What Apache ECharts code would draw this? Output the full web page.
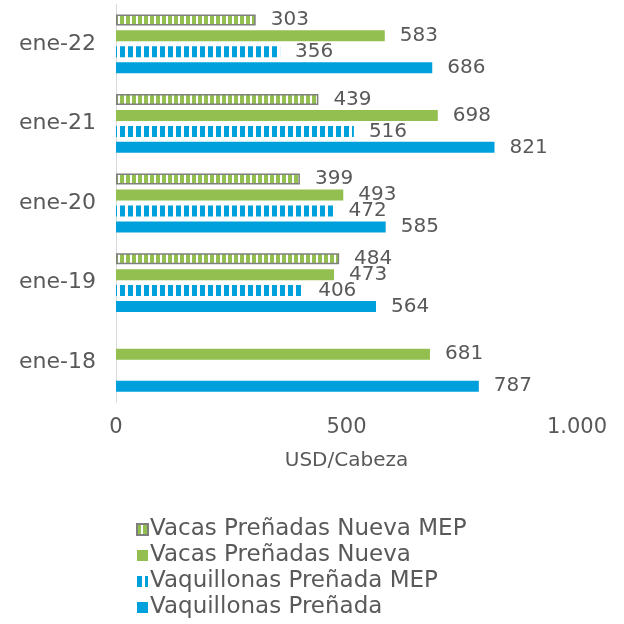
<!DOCTYPE html>
<html>
<head>
<meta charset="utf-8">
<script src="https://cdn.jsdelivr.net/npm/echarts@6/dist/echarts.min.js"></script>
<style>
  html, body { margin: 0; padding: 0; background: #fff; }
  #chart { width: 624px; height: 624px; }
</style>
</head>
<body>
<div id="chart"></div>
<script>
// data, bottom to top as echarts draws a category yAxis
const categories = ['ene-18', 'ene-19', 'ene-20', 'ene-21', 'ene-22']
const vaquillonas = [787, 564, 585, 821, 686]
const vaquillonasMep = [null, 406, 472, 516, 356]
const vacas = [681, 473, 493, 698, 583]
const vacasMep = [null, 484, 399, 439, 303]
const xTicks = [0, 500, 1000]

const FONT = 'DejaVu Sans'
const TEXT = '#595959'
const GREEN = '#92BF50'
const BLUE = '#00A0DC'

// striped fill for the MEP series
function stripes (color, on, off) {
    const c = document.createElement('canvas')
    c.width = on + off
    c.height = 8
    const ctx = c.getContext('2d')
    ctx.fillStyle = '#ffffff'
    ctx.fillRect(0, 0, c.width, c.height)
    ctx.fillStyle = color
    ctx.fillRect(0, 0, on, c.height)
    return { image: c, repeat: 'repeat' }
}

const myChart = echarts.init(document.getElementById('chart'))

const label = {
    show: true,
    position: 'right',
    distance: 15,
    color: TEXT,
    fontFamily: FONT,
    fontSize: 20
}

const option = {
    animation: false,
    grid: { left: 116, right: 47, top: 4, bottom: 222 },
    legend: {
        orient: 'vertical',
        left: 131,
        top: 513,
        icon: 'rect',
        itemWidth: 11,
        itemHeight: 11,
        itemGap: 3,
        textStyle: { color: TEXT, fontFamily: FONT, fontSize: 23, padding: [0, 0, 0, -3] },
        data: ['Vacas Preñadas Nueva MEP', 'Vacas Preñadas Nueva', 'Vaquillonas Preñada MEP', 'Vaquillonas Preñada']
    },
    xAxis: {
        type: 'value',
        min: xTicks[0],
        max: xTicks[xTicks.length - 1],
        interval: 500,
        name: 'USD/Cabeza',
        nameLocation: 'middle',
        nameGap: 49,
        nameTextStyle: { color: TEXT, fontFamily: FONT, fontSize: 20 },
        axisLine: { show: false },
        axisTick: { show: false },
        splitLine: { show: false },
        axisLabel: {
            color: TEXT,
            fontFamily: FONT,
            fontSize: 21,
            margin: 15,
            formatter: v => v.toLocaleString('de-DE')
        }
    },
    yAxis: {
        type: 'category',
        data: categories,
        axisLine: { show: true, lineStyle: { color: '#D9D9D9', width: 1 } },
        axisTick: { show: false },
        axisLabel: { color: TEXT, fontFamily: FONT, fontSize: 22, margin: 20 }
    },
    series: [
        {
            name: 'Vacas Preñadas Nueva MEP',
            type: 'bar',
            data: vacasMep,
            barWidth: 11,
            barGap: '45%',
            itemStyle: { color: stripes(GREEN, 4, 2), borderColor: '#7F7F7F', borderWidth: 1.5 },
            label: label
        },
        {
            name: 'Vacas Preñadas Nueva',
            type: 'bar',
            data: vacas,
            barWidth: 11,
            barGap: '45%',
            itemStyle: { color: GREEN },
            label: label
        },
        {
            name: 'Vaquillonas Preñada MEP',
            type: 'bar',
            data: vaquillonasMep,
            barWidth: 11,
            barGap: '45%',
            itemStyle: { color: stripes(BLUE, 5, 3) },
            label: label
        },
        {
            name: 'Vaquillonas Preñada',
            type: 'bar',
            data: vaquillonas,
            barWidth: 11,
            barGap: '45%',
            itemStyle: { color: BLUE },
            label: label
        }
    ]
}
myChart.setOption(option)
</script>
</body>
</html>
